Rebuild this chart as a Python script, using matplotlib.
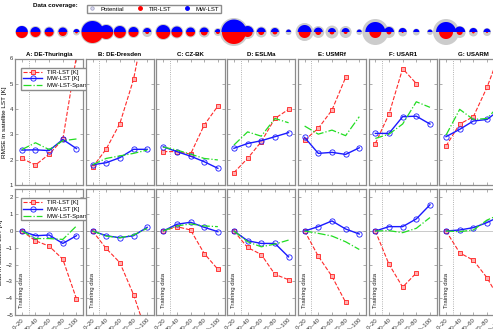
import numpy as np
import matplotlib.pyplot as plt
from matplotlib.path import Path
from matplotlib.markers import MarkerStyle
from matplotlib.lines import Line2D

plt.rcParams['font.family'] = ['Liberation Sans', 'DejaVu Sans']

# Data
sites = ['A: DE-Thuringia', 'B: DE-Dresden', 'C: CZ-BK', 'D: ESLMa',
         'E: USMRf', 'F: USAR1', 'G: USARM']
bins = ['0~20', '20~40', '40~60', '60~80', '80~100']
nan = np.nan

rmse_tir = [[2.05, 1.79, 2.22, 2.80, 6.10],
            [1.70, 2.42, 3.43, 5.17, 7.90],
            [2.32, 2.32, 2.22, 3.37, 4.12],
            [1.49, 2.05, 2.71, 3.63, 3.99],
            [2.77, 3.24, 3.96, 5.25, nan],
            [2.64, 3.80, 5.60, 5.01, nan],
            [2.54, 3.41, 3.70, 4.86, 6.30]]
rmse_mw = [[2.38, 2.39, 2.36, 2.80, 2.44],
           [1.80, 1.88, 2.08, 2.41, 2.41],
           [2.51, 2.32, 2.14, 1.92, 1.66],
           [2.45, 2.64, 2.75, 2.91, 3.07],
           [2.88, 2.25, 2.29, 2.21, 2.47],
           [3.04, 3.04, 3.70, 3.72, 3.41],
           [2.91, 3.20, 3.53, 3.59, 4.00]]
rmse_sparse = [[2.40, 2.67, 2.40, 2.75, 2.82],
               [1.80, 2.05, 2.15, 2.25, 2.38],
               [2.50, 2.38, 2.22, 2.05, 1.99],
               [2.58, 3.10, 2.93, 3.63, 3.46],
               [3.33, 3.01, 3.17, 2.95, 3.70],
               [2.84, 3.01, 3.41, 4.29, 4.07],
               [2.97, 3.99, 3.59, 3.63, 4.20]]

bias_tir = [[0, -0.58, -0.90, -1.68, -4.04],
            [0, -1.04, -1.88, -3.78, -6.20],
            [0, 0.26, 0.06, -1.34, -2.28],
            [0, -0.98, -1.40, -2.58, -2.90],
            [0, -1.50, -2.70, -4.24, nan],
            [0, -1.98, -3.34, -2.50, nan],
            [0, -1.30, -1.74, -2.78, -4.20]]
bias_mw = [[0, -0.28, -0.24, -0.74, -0.28],
           [0, -0.28, -0.40, -0.28, 0.22],
           [0, 0.40, 0.52, 0.22, -0.04],
           [0, -0.58, -0.74, -0.74, -1.54],
           [0, 0.26, 0.60, 0.12, -0.18],
           [0, 0.26, 0.26, 0.72, 1.56],
           [0, 0.06, 0.20, 0.50, 0.90]]
bias_sparse = [[0, -0.45, -0.45, -0.50, 0.30],
               [0, -0.30, -0.40, -0.24, 0.16],
               [0, 0.30, 0.42, 0.30, 0.26],
               [0, -0.64, -0.94, -0.78, -0.54],
               [0, -0.14, -0.30, -0.64, -1.10],
               [0, 0.02, -0.10, 0.16, 0.80],
               [0, -0.04, 0.06, 0.65, 1.00]]

# data coverage (relative sample counts)
cov_pot = [[42, 36, 30, 30, 12],
           [144, 64, 49, 36, 25],
           [64, 42, 30, 30, 16],
           [196, 49, 30, 25, 9],
           [81, 36, 42, 36, 9],
           [169, 36, 20, 12, 9],
           [169, 36, 20, 16, 9]]
cov_mw = [[36, 25, 20, 20, 9],
          [121, 49, 36, 25, 16],
          [49, 30, 20, 20, 9],
          [156, 36, 20, 16, 6],
          [49, 20, 16, 16, 6],
          [100, 25, 16, 9, 6],
          [100, 30, 16, 12, 9]]
cov_tir = [[36, 25, 20, 16, 2],
           [121, 49, 36, 25, 4],
           [49, 30, 20, 12, 4],
           [144, 25, 9, 6, 0],
           [36, 9, 6, 4, 0],
           [36, 6, 1, 0, 0],
           [49, 9, 2, 1, 0]]

W, H = 493, 329
fig = plt.figure(figsize=(W / 100, H / 100), dpi=100)


def box(l, t, w, h):
    return [l / W, 1 - (t + h) / H, w / W, h / H]


th = np.linspace(0, np.pi, 60)
top_half = MarkerStyle(Path(np.c_[np.cos(th), np.sin(th)]))
bot_half = MarkerStyle(Path(np.c_[np.cos(th), -np.sin(th)]))

grey = '#8c8c8c'
x = np.arange(1, 6)
k = (2 * 0.72) ** 2


def style(ax):
    ax.set_xlim(0.5, 5.5)
    ax.set_xticks(x)
    ax.tick_params(direction='in', length=2, width=0.5, top=True, right=True,
                   labelsize=4.3, colors='#333333', pad=1.5)
    ax.tick_params(axis='both', color=grey)
    for s in ax.spines.values():
        s.set_color(grey)
        s.set_linewidth(0.9)
    ax.axvline(1.5, color='#999999', ls=':', lw=0.6, zorder=0)


for i, site in enumerate(sites):
    left = 15 + 70.7 * i

    axc = fig.add_axes(box(left, 18, 68.3, 28))
    axc.set_xlim(0.5, 5.5)
    axc.set_ylim(-1, 1)
    axc.axis('off')
    z = np.zeros(5)
    axc.scatter(x, z, s=k * np.array(cov_pot[i]), c='#cccccc', lw=0, clip_on=False)
    axc.scatter(x, z, s=k * np.array(cov_mw[i]), c='#0000ff', lw=0,
                marker=top_half, clip_on=False)
    axc.scatter(x, z, s=k * np.array(cov_tir[i]), c='#ff0000', lw=0,
                marker=bot_half, clip_on=False)

    axt = fig.add_axes(box(left, 58.5, 68.3, 126.5))
    axb = fig.add_axes(box(left, 189, 68.3, 126))

    for ax, tir, mw, sp in [(axt, rmse_tir, rmse_mw, rmse_sparse),
                            (axb, bias_tir, bias_mw, bias_sparse)]:
        style(ax)
        ax.plot(x, tir[i], ls='--', color='#ff2a2a', lw=0.8, marker='s', ms=3.2,
                mfc='#ffb0b0', mec='#ff2020', mew=0.6, label='TIR-LST [K]')
        ax.plot(x, mw[i], ls='-', color='#1a1aff', lw=1.0, marker='o', ms=3.8,
                mfc='none', mec='#1a1aff', mew=0.6, label='MW-LST [K]')
        ax.plot(x, sp[i], ls='-.', color='#22dd22', lw=0.9,
                label='MW-LST-Sparse [K]')

    axt.set_ylim(1, 6)
    axt.set_yticks([1, 2, 3, 4, 5, 6])
    axt.set_xticklabels([])
    axt.set_title(site, fontsize=4.4, fontweight='bold', pad=2)

    axb.set_ylim(-5, 2.5)
    axb.set_yticks([-5, -4, -3, -2, -1, 0, 1, 2])
    axb.axhline(0, color='#c0c0c0', lw=0.6, zorder=0)
    axb.set_xticklabels(bins, rotation=45, ha='right', rotation_mode='anchor')
    axb.text(1.0, -4.6, 'Training data', rotation=90, fontsize=4.3,
             ha='center', va='bottom', color='#222222')

    if i == 0:
        axt.set_ylabel('RMSE in satellite LST [K]', fontsize=4.6, labelpad=2)
        axb.set_ylabel('Bias in satellite LST [K]', fontsize=4.6, labelpad=2)
        for ax in (axt, axb):
            ax.legend(loc='upper left', bbox_to_anchor=(0.05, 0.95), fontsize=4.3,
                      handlelength=3.2, labelspacing=0.25, borderpad=0.3,
                      fancybox=False, edgecolor=grey, framealpha=1)
    else:
        axt.set_yticklabels([])
        axb.set_yticklabels([])

fig.text(33 / W, 1 - 6 / H, 'Data coverage:', fontsize=4.5, fontweight='bold',
         va='center', ha='left')
handles = [Line2D([], [], ls='none', marker='o', ms=2.5, mfc='#d8d8ee', mec='#9999bb', mew=0.5),
           Line2D([], [], ls='none', marker='o', ms=2.5, mfc='#ff0000', mec='#ff0000'),
           Line2D([], [], ls='none', marker='o', ms=2.5, mfc='#0000ff', mec='#0000ff')]
fig.legend(handles, ['Potential', 'TIR-LST', 'MW-LST'], loc='center',
           bbox_to_anchor=(154 / W, 1 - 9 / H), ncol=3, fontsize=4.3,
           handlelength=1.2, handletextpad=0.8, columnspacing=2.1, borderpad=0.3,
           fancybox=False, edgecolor=grey, framealpha=1)

fig.savefig('out.png', dpi=100)
